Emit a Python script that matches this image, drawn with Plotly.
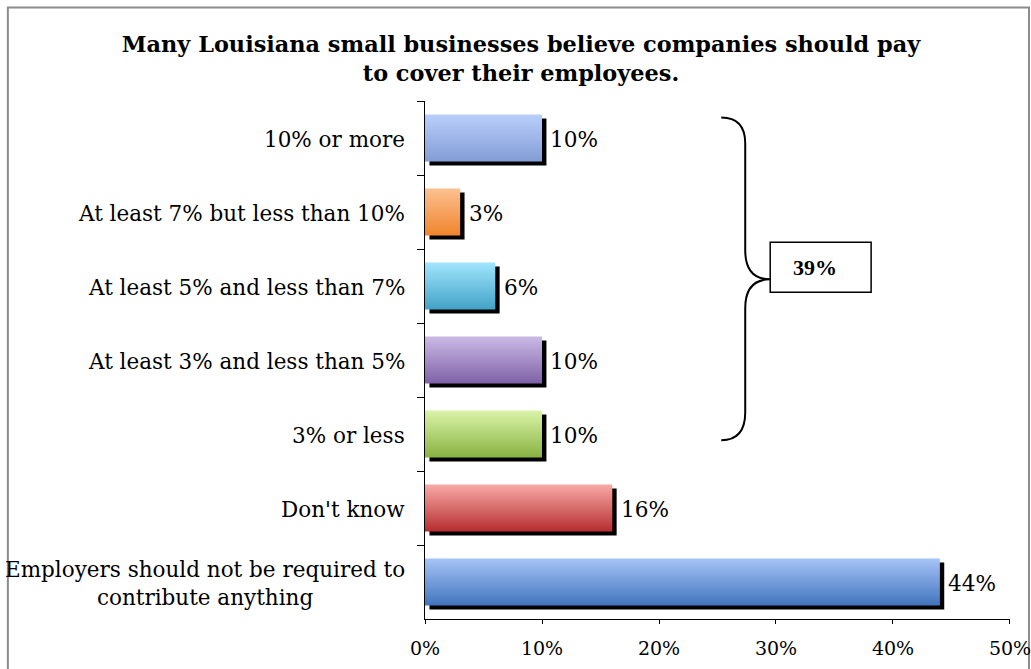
import plotly.graph_objects as go

# categories top to bottom
categories = [
    "10% or more",
    "At least 7% but less than 10%",
    "At least 5% and less than 7%",
    "At least 3% and less than 5%",
    "3% or less",
    "Don't know",
    "Employers should not be required to<br>contribute anything",
]
values = [10, 3, 6, 10, 10, 16, 44]
value_labels = ["10%", "3%", "6%", "10%", "10%", "16%", "44%"]
group_label = "39%"

# gradient colours per bar (top, bottom)
top_colors = [(184, 206, 250), (252, 192, 142), (158, 228, 252), (202, 184, 228),
              (216, 242, 166), (247, 168, 164), (164, 194, 246)]
bottom_colors = [(132, 158, 214), (240, 134, 48), (68, 164, 200), (128, 100, 168),
                 (138, 180, 68), (184, 48, 50), (68, 118, 190)]

W, H = 1031, 669
L, R, T, B = 424.5, 21, 100.5, 50
PW, PH = W - L - R, H - T - B

bar_w = 0.635
n_strips = 24
shadow_dx = 0.38
shadow_dy = 0.054
serif = "DejaVu Serif"

fig = go.Figure()

# shadow
fig.add_trace(go.Bar(
    y=categories, x=values, base=shadow_dx, orientation="h",
    width=bar_w, offset=-bar_w / 2 + shadow_dy,
    marker=dict(color="black", line=dict(width=0)),
    hoverinfo="skip", showlegend=False,
))

# gradient bar drawn as thin horizontal strips
sw = bar_w / n_strips
for i in range(n_strips):
    t = i / (n_strips - 1)
    cols = []
    for a, b in zip(top_colors, bottom_colors):
        c = [round(a[k] + (b[k] - a[k]) * t) for k in range(3)]
        cols.append("rgb(%d,%d,%d)" % tuple(c))
    w = sw * 1.6 if i < n_strips - 1 else sw
    fig.add_trace(go.Bar(
        y=categories, x=values, orientation="h",
        width=w, offset=-bar_w / 2 + i * sw,
        marker=dict(color=cols, line=dict(width=0)),
        hoverinfo="skip", showlegend=False,
    ))

# value labels, just right of the shadow
for c, v, lab in zip(categories, values, value_labels):
    fig.add_annotation(
        x=v + shadow_dx, y=c, xref="x", yref="y", text=lab, showarrow=False,
        xanchor="left", yanchor="middle", xshift=2, yshift=-1,
        font=dict(family=serif, size=21.6, color="black"),
    )

# category labels (centered multi-line, right anchored)
for c in categories:
    fig.add_annotation(
        x=0, xref="paper", y=c, yref="y", text=c, showarrow=False,
        xanchor="right", yanchor="middle", xshift=-18, yshift=-1, align="center",
        font=dict(family=serif, size=21.5, color="black"),
    )


def px(x, y):
    return (x - L) / PW, (H - B - y) / PH


def pt(x, y):
    a, b = px(x, y)
    return "%.4f,%.4f" % (a, b)


# curly brace around the 3%..10% bars
path = ("M " + pt(721, 117) + " Q " + pt(745, 117) + " " + pt(745, 143)
        + " L " + pt(745, 250) + " Q " + pt(745, 279) + " " + pt(770, 279)
        + " Q " + pt(745, 279) + " " + pt(745, 308)
        + " L " + pt(745, 412) + " Q " + pt(745, 440) + " " + pt(721, 440))
fig.add_shape(type="path", path=path, xref="paper", yref="paper",
              line=dict(color="black", width=2))

bx0, by0 = px(770, 292)
bx1, by1 = px(871, 242)
fig.add_shape(type="rect", xref="paper", yref="paper",
              x0=bx0, y0=by0, x1=bx1, y1=by1,
              line=dict(color="black", width=1.5), fillcolor="white")
fig.add_annotation(x=(bx0 + bx1) / 2, y=(by0 + by1) / 2, xref="paper", yref="paper",
                   xanchor="center", yanchor="middle",
                   text="<b>" + group_label + "</b>", showarrow=False, xshift=-6,
                   font=dict(family="Liberation Serif", size=22, color="black"))

# outer chart border
ox0, oy0 = px(7, 7)
ox1, oy1 = px(1029, 700)
fig.add_shape(type="rect", xref="paper", yref="paper",
              x0=ox0, y0=oy0, x1=ox1, y1=oy1,
              line=dict(color="#8c8c8c", width=2), layer="below")

fig.update_layout(
    width=W, height=H,
    margin=dict(l=L, r=R, t=T, b=B, autoexpand=False),
    barmode="overlay",
    plot_bgcolor="white", paper_bgcolor="white",
    title=dict(
        text="<b>Many Louisiana small businesses believe companies should pay<br>to cover their employees.</b>",
        x=521 / W, xanchor="center", y=1 - 52 / H, yanchor="top",
        font=dict(family=serif, size=22.4, color="black"),
    ),
    xaxis=dict(
        range=[0, 50.001], tickvals=[0, 10, 20, 30, 40, 50],
        ticktext=["0%", "10%", "20%", "30%", "40%", "50%"],
        showgrid=False, zeroline=False, showline=True, linecolor="black", linewidth=1,
        ticks="outside", ticklen=4, tickcolor="black", ticklabelstandoff=8,
        ticklabeloverflow="allow", automargin=False,
        tickfont=dict(family=serif, size=19, color="black"),
    ),
    yaxis=dict(
        autorange="reversed", showticklabels=False, showgrid=False,
        showline=True, linecolor="black", linewidth=1, automargin=False,
        ticks="outside", ticklen=7, tickcolor="black", tickson="boundaries",
    ),
)

fig.write_html("out.html", config={"displayModeBar": False},
               post_script="document.body.style.margin='0';")
